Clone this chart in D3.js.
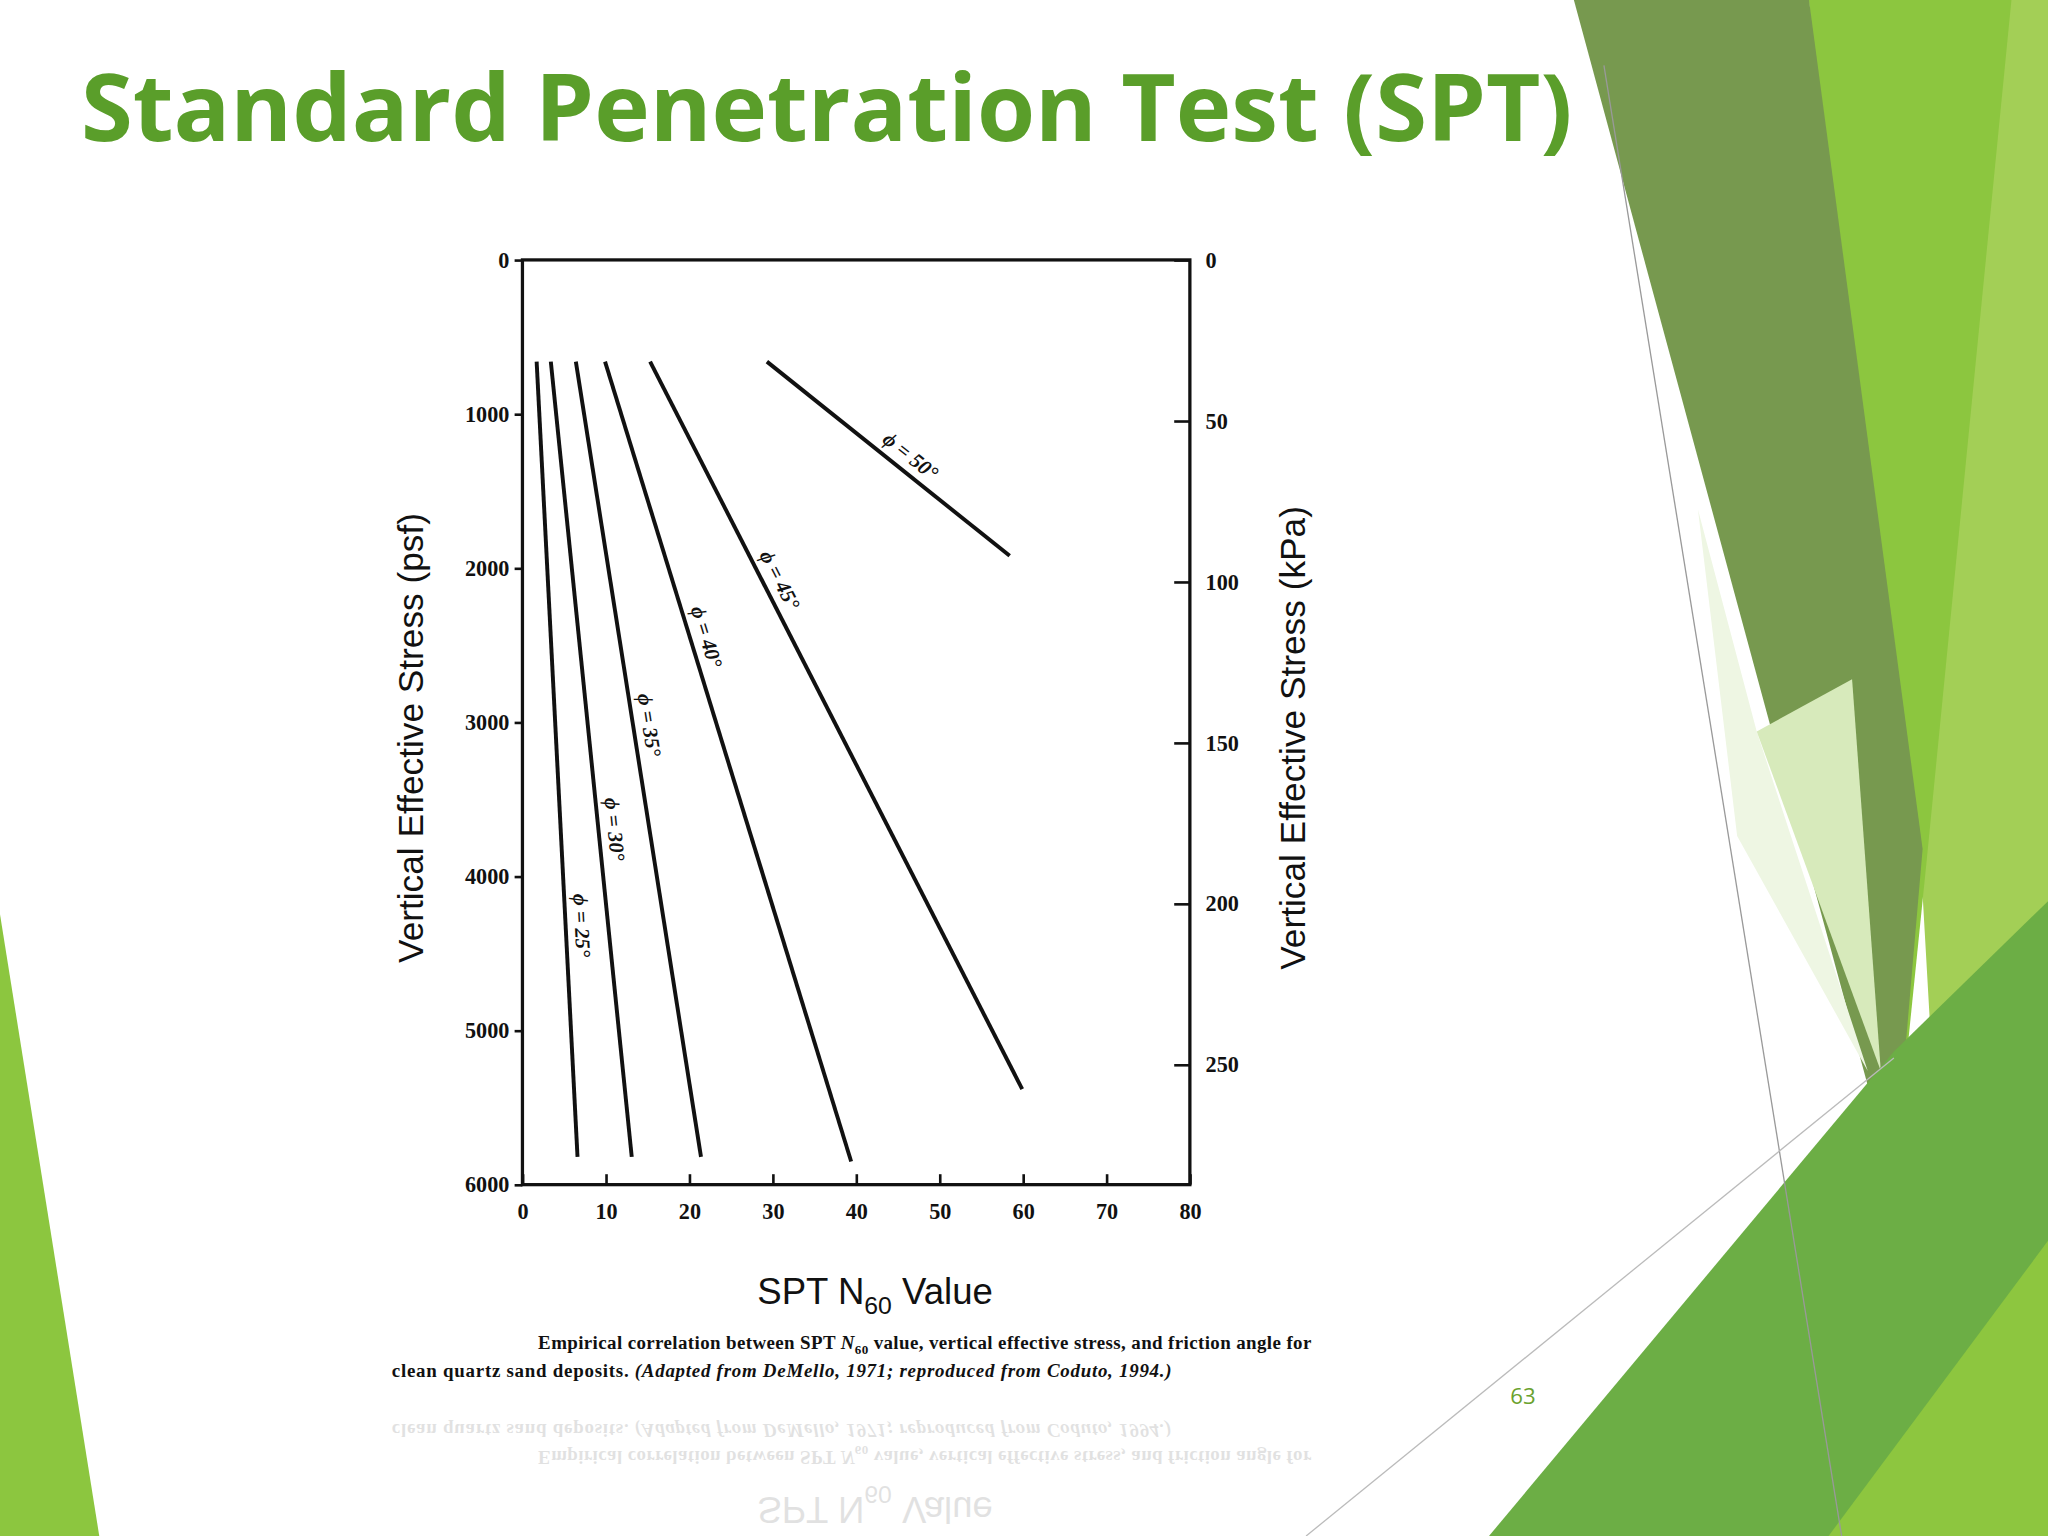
<!DOCTYPE html>
<html><head><meta charset="utf-8">
<script src="https://cdn.jsdelivr.net/npm/d3@7"></script>
<style>body{margin:0;background:#fff}svg{display:block}</style>
</head><body>
<script>
// Data
const xTicks = [0,10,20,30,40,50,60,70,80];
const psfTicks = [0,1000,2000,3000,4000,5000,6000];
const kpaTicks = [0,50,100,150,200,250];
const angles = ["25","30","35","40","45","50"];
const startN = [1.7,3.4,6.4,9.9,15.3,29.3];
const startPsf = [660,660,660,660,660,660];
const endN = [6.6,13.1,21.4,39.4,59.9,58.4];
const endPsf = [5820,5820,5820,5850,5380,1920];
const labelFrac = [0.71,0.59,0.46,0.35,0.31,0.55];

const W=1568,H=1176;
const svg=d3.select("body").append("svg").attr("width",2048).attr("height",1536).attr("viewBox",`0 0 ${W} ${H}`);
svg.append("rect").attr("width",W).attr("height",H).attr("fill","#fff");

const polys=[
 {c:"#a3cf56",p:[[1385,0],[1568,0],[1568,1176],[1500,1176],[1470,650]]},
 {c:"#8cc63f",p:[[1385,0],[1540,0],[1475,660],[1450,905]]},
 {c:"#77994f",p:[[1205,0],[1385,0],[1472,650],[1450,905]]},
 {c:"#eef6e3",p:[[1300,390],[1345,560],[1430,820],[1330,640]]},
 {c:"#d7eabb",p:[[1345,560],[1418,520],[1440,820]]},
 {c:"#c3e09a",p:[[1290,1176],[1440,820],[1470,1176]]},
 {c:"#6cae45",p:[[1140,1176],[1450,805],[1568,690],[1568,1176]]},
 {c:"#8dc63f",p:[[1400,1176],[1568,950],[1568,1176]]},
 {c:"#8cc63f",p:[[0,700],[76,1176],[0,1176]]}
];
polys.forEach(d=>svg.append("polygon").attr("points",d.p.map(q=>q.join(",")).join(" ")).attr("fill",d.c));
svg.append("line").attr("x1",1228).attr("y1",50).attr("x2",1410).attr("y2",1176).attr("stroke","#999").attr("stroke-width",1);
svg.append("line").attr("x1",1000).attr("y1",1176).attr("x2",1450).attr("y2",810).attr("stroke","#bbb").attr("stroke-width",1);

svg.append("text").attr("x",62).attr("y",108).attr("font-family","Open Sans, DejaVu Sans, sans-serif").attr("font-weight","bold").attr("font-size",72).attr("fill","#5a9e2a").text("Standard Penetration Test (SPT)");
svg.append("text").attr("x",1166).attr("y",1075).attr("text-anchor","middle").attr("font-family","Open Sans, sans-serif").attr("font-size",17).attr("fill","#6aa22e").text("63");

const tf="Liberation Serif, Times New Roman, serif";
const sf="Liberation Sans, Arial, sans-serif";
const x=d3.scaleLinear().domain([0,80]).range([400,911]);
const y=d3.scaleLinear().domain([0,6000]).range([199,907]);
const yk=d3.scaleLinear().domain([0,6000/20.885]).range([199,907]);
const g=svg.append("g");
g.append("rect").attr("x",400).attr("y",199).attr("width",511).attr("height",708).attr("fill","none").attr("stroke","#111").attr("stroke-width",2.5);
const ax=g.append("g").attr("transform","translate(0,907)").call(d3.axisBottom(x).tickValues(xTicks).tickFormat(d3.format("d")).tickSize(-8).tickPadding(14));
const al=g.append("g").attr("transform","translate(400,0)").call(d3.axisLeft(y).tickValues(psfTicks).tickFormat(d3.format("d")).tickSize(0).tickPadding(10));
const ar=g.append("g").attr("transform","translate(911,0)").call(d3.axisRight(yk).tickValues(kpaTicks).tickFormat(d3.format("d")).tickSize(0).tickPadding(12));
ar.selectAll(".tick line").attr("x2",-12);
[ax,al,ar].forEach(a=>{a.select(".domain").remove();a.selectAll("text").attr("font-family",tf).attr("font-weight","bold").attr("font-size",17).attr("fill","#111");a.selectAll(".tick line").attr("stroke","#111").attr("stroke-width",2);});
al.selectAll(".tick").append("line").attr("x1",0).attr("x2",-6).attr("stroke","#111").attr("stroke-width",2);
angles.forEach((a,i)=>{
 const x1=x(startN[i]),y1=y(startPsf[i]),x2=x(endN[i]),y2=y(endPsf[i]);
 g.append("line").attr("x1",x1).attr("y1",y1).attr("x2",x2).attr("y2",y2).attr("stroke","#111").attr("stroke-width",3);
 const f=labelFrac[i],lx=x1+(x2-x1)*f,ly=y1+(y2-y1)*f;
 const ang=Math.atan2(y2-y1,x2-x1)*180/Math.PI;
 g.append("text").attr("transform",`translate(${lx},${ly}) rotate(${ang}) translate(0,-7)`).attr("text-anchor","middle")
  .attr("font-family",tf).attr("font-weight","bold").attr("font-style","italic").attr("font-size",16).attr("fill","#111").text(`ϕ = ${a}°`);
});
g.append("text").attr("transform","translate(324,565) rotate(-90)").attr("text-anchor","middle").attr("font-family",sf).attr("font-size",27).attr("fill","#111").text("Vertical Effective Stress (psf)");
g.append("text").attr("transform","translate(999,565) rotate(-90)").attr("text-anchor","middle").attr("font-family",sf).attr("font-size",27).attr("fill","#111").text("Vertical Effective Stress (kPa)");

function captions(g){
 const t=g.append("text").attr("x",670).attr("y",998).attr("text-anchor","middle").attr("font-family",sf).attr("font-size",28).attr("fill","#111");
 t.append("tspan").text("SPT N");t.append("tspan").attr("font-size",19).attr("dy",8).text("60");t.append("tspan").attr("dy",-8).text(" Value");
 const c1=g.append("text").attr("x",412).attr("y",1033).attr("font-family",tf).attr("font-weight","bold").attr("font-size",14.5).attr("fill","#111").attr("textLength",592);
 c1.append("tspan").text("Empirical correlation between SPT ");c1.append("tspan").attr("font-style","italic").text("N");c1.append("tspan").attr("font-size",10).attr("dy",4).text("60");c1.append("tspan").attr("dy",-4).text(" value, vertical effective stress, and friction angle for");
 const c2=g.append("text").attr("x",300).attr("y",1054).attr("font-family",tf).attr("font-weight","bold").attr("font-size",14.5).attr("fill","#111").attr("textLength",597);
 c2.append("tspan").text("clean quartz sand deposits. ");c2.append("tspan").attr("font-style","italic").text("(Adapted from DeMello, 1971; reproduced from Coduto, 1994.)");
}
captions(g);
const refl=svg.append("g").attr("opacity",0.12).attr("transform",`translate(0,${2*1072}) scale(1,-1)`);
captions(refl);
</script>
</body></html>
